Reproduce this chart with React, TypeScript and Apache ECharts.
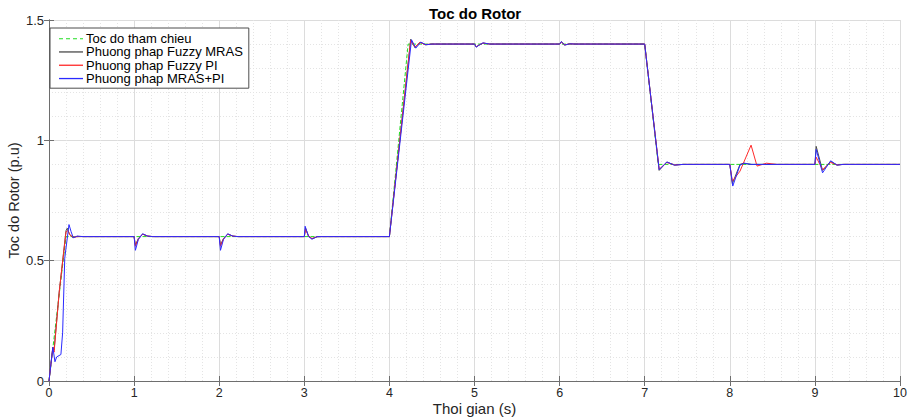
import React, { useEffect, useRef } from "react";
import * as echarts from "echarts";

const chartTitle = "Toc do Rotor";
const xAxisName = "Thoi gian (s)";
const yAxisName = "Toc do Rotor (p.u)";
const seriesNames = [
  "Toc do tham chieu",
  "Phuong phap Fuzzy MRAS",
  "Phuong phap Fuzzy PI",
  "Phuong phap MRAS+PI",
];

// [time (s), speed (p.u)]
const refData: number[][] = [
  [0, 0], [0.2, 0.6], [4.0, 0.6], [4.22, 1.4], [7.0, 1.4], [7.16, 0.9], [10, 0.9],
];

const fuzzyMrasData: number[][] = [
  [0, 0], [0.045, 0.14], [0.06, 0.13], [0.12, 0.37], [0.2, 0.625], [0.215, 0.635], [0.24, 0.61], [0.28, 0.596], [0.33, 0.601], [0.4, 0.6],
  [1.0, 0.6], [1.015, 0.565], [1.05, 0.592], [1.1, 0.61], [1.16, 0.602], [1.22, 0.6],
  [2.0, 0.6], [2.015, 0.565], [2.05, 0.592], [2.1, 0.61], [2.16, 0.602], [2.22, 0.6],
  [3.0, 0.6], [3.015, 0.635], [3.05, 0.603], [3.09, 0.591], [3.15, 0.599], [3.2, 0.6],
  [4.0, 0.6], [4.25, 1.42], [4.3, 1.385], [4.36, 1.408], [4.42, 1.397], [4.5, 1.4],
  [5.0, 1.4], [5.02, 1.388], [5.06, 1.397], [5.1, 1.404], [5.18, 1.4],
  [6.0, 1.4], [6.02, 1.41], [6.06, 1.396], [6.12, 1.401], [6.18, 1.4],
  [7.0, 1.4], [7.17, 0.875], [7.26, 0.91], [7.35, 0.897], [7.45, 0.9],
  [8.0, 0.9], [8.03, 0.82], [8.12, 0.9], [8.16, 0.905], [8.25, 0.9],
  [9.0, 0.9], [9.015, 0.975], [9.09, 0.875], [9.185, 0.912], [9.26, 0.897], [9.33, 0.9], [10, 0.9],
];

const fuzzyPiData: number[][] = [
  [0, 0], [0.045, 0.14], [0.06, 0.12], [0.12, 0.37], [0.2, 0.62], [0.22, 0.625], [0.25, 0.605], [0.29, 0.598], [0.35, 0.6],
  [1.0, 0.6], [1.015, 0.56], [1.05, 0.59], [1.1, 0.61], [1.16, 0.602], [1.22, 0.6],
  [2.0, 0.6], [2.015, 0.56], [2.05, 0.59], [2.1, 0.61], [2.16, 0.602], [2.22, 0.6],
  [3.0, 0.6], [3.015, 0.63], [3.05, 0.602], [3.09, 0.592], [3.15, 0.6],
  [4.0, 0.6], [4.25, 1.415], [4.3, 1.388], [4.36, 1.407], [4.42, 1.398], [4.5, 1.4],
  [5.0, 1.4], [5.02, 1.389], [5.06, 1.397], [5.1, 1.404], [5.18, 1.4],
  [6.0, 1.4], [6.02, 1.408], [6.06, 1.397], [6.12, 1.401], [6.18, 1.4],
  [7.0, 1.4], [7.17, 0.88], [7.26, 0.908], [7.35, 0.898], [7.45, 0.9],
  [8.0, 0.9], [8.03, 0.83], [8.12, 0.872], [8.25, 0.98], [8.32, 0.893], [8.43, 0.905], [8.55, 0.9],
  [9.0, 0.9], [9.015, 0.93], [9.09, 0.878], [9.185, 0.908], [9.26, 0.898], [9.33, 0.9], [10, 0.9],
];

const mrasPiData: number[][] = [
  [0, 0], [0.045, 0.14], [0.07, 0.08], [0.09, 0.1], [0.14, 0.11], [0.16, 0.2], [0.185, 0.51], [0.235, 0.65], [0.26, 0.62], [0.285, 0.595], [0.33, 0.602], [0.4, 0.6],
  [1.0, 0.6], [1.015, 0.543], [1.05, 0.588], [1.1, 0.612], [1.16, 0.602], [1.22, 0.6],
  [2.0, 0.6], [2.015, 0.543], [2.05, 0.588], [2.1, 0.612], [2.16, 0.602], [2.22, 0.6],
  [3.0, 0.6], [3.01, 0.643], [3.05, 0.6], [3.09, 0.589], [3.15, 0.6],
  [4.0, 0.6], [4.26, 1.418], [4.31, 1.383], [4.37, 1.408], [4.43, 1.397], [4.5, 1.4],
  [5.0, 1.4], [5.02, 1.387], [5.06, 1.397], [5.1, 1.405], [5.18, 1.4],
  [6.0, 1.4], [6.02, 1.41], [6.06, 1.396], [6.12, 1.401], [6.18, 1.4],
  [7.0, 1.4], [7.17, 0.878], [7.26, 0.91], [7.35, 0.897], [7.45, 0.9],
  [8.0, 0.9], [8.035, 0.81], [8.12, 0.897], [8.17, 0.905], [8.25, 0.9],
  [9.0, 0.9], [9.015, 0.962], [9.09, 0.865], [9.185, 0.915], [9.26, 0.897], [9.33, 0.9], [10, 0.9],
];

const seriesData = [refData, fuzzyMrasData, fuzzyPiData, mrasPiData];
const seriesColors = ["#22dd22", "#4a4a4a", "#ff2a2a", "#2a2aff"];
const seriesDash = ["dashed", "solid", "solid", "solid"];
const legendIcons = [
  "path://M0,0h4v1h-4z M7,0h4v1h-4z M14,0h4v1h-4z M21,0h3v1h-3z",
  "rect",
  "rect",
  "rect",
];

const FONT = "'Liberation Sans', Arial, sans-serif";
const TEXT = "#262626";

export default function App() {
  const ref = useRef<HTMLDivElement>(null);
  useEffect(() => {
    if (!ref.current) return;
    const chart = echarts.init(ref.current, undefined, { renderer: "svg" });
    const axisLine = { show: true, lineStyle: { color: "#6e6e6e", width: 1 } };
    const baseX = {
      type: "value" as const,
      min: 0,
      max: 10,
      interval: 1,
      axisLine,
      axisTick: { show: true, inside: true, length: 5, lineStyle: { color: "#6e6e6e" } },
    };
    const baseY = {
      type: "value" as const,
      min: 0,
      max: 1.5,
      interval: 0.5,
      axisLine,
      axisTick: { show: true, inside: true, length: 5, lineStyle: { color: "#6e6e6e" } },
    };
    chart.setOption({
      animation: false,
      backgroundColor: "#ffffff",
      title: {
        text: chartTitle,
        left: 424,
        top: 1,
        textStyle: { fontFamily: FONT, fontSize: 15, fontWeight: "bold", color: "#000" },
      },
      legend: {
        orient: "vertical",
        left: 50,
        top: 28,
        padding: [4, 6, 3, 9],
        itemWidth: 24,
        itemHeight: 1.3,
        itemGap: 0,
        backgroundColor: "#ffffff",
        borderColor: "#4d4d4d",
        borderWidth: 1,
        borderRadius: 0,
        data: seriesNames.map((name, i) => ({ name, icon: legendIcons[i] })),
        textStyle: { fontFamily: FONT, fontSize: 13, lineHeight: 13.3, color: "#000", padding: [0, 0, 0, -2] },
      },
      grid: { left: 49, right: 13, top: 20, bottom: 38, containLabel: false, outerBoundsMode: "none" },
      xAxis: [
        {
          ...baseX,
          position: "bottom",
          name: xAxisName,
          nameLocation: "middle",
          nameGap: 20,
          nameMoveOverlap: false,
          nameTextStyle: { fontFamily: FONT, fontSize: 15, color: TEXT },
          axisLabel: { fontFamily: FONT, fontSize: 12.5, lineHeight: 13, color: TEXT, margin: 5 },
          splitLine: { show: true, lineStyle: { color: "#dcdcdc", width: 1 } },
          minorTick: { show: false, splitNumber: 5 },
          minorSplitLine: { show: true, lineStyle: { color: "#e4e4e4", type: [1, 2], width: 1 } },
        },
        {
          ...baseX,
          position: "top",
          axisLabel: { show: false },
          splitLine: { show: false },
        },
      ],
      yAxis: [
        {
          ...baseY,
          position: "left",
          name: yAxisName,
          nameLocation: "middle",
          nameGap: 28,
          nameMoveOverlap: false,
          nameTextStyle: { fontFamily: FONT, fontSize: 14.5, color: TEXT },
          axisLabel: { fontFamily: FONT, fontSize: 13, color: TEXT, margin: 5 },
          splitLine: { show: true, lineStyle: { color: "#dcdcdc", width: 1 } },
          minorTick: { show: false, splitNumber: 5 },
          minorSplitLine: { show: true, lineStyle: { color: "#e4e4e4", type: [1, 2], width: 1 } },
        },
        {
          ...baseY,
          position: "right",
          axisLabel: { show: false },
          splitLine: { show: false },
        },
      ],
      series: seriesNames.map((name, i) => ({
        name,
        type: "line",
        xAxisIndex: 0,
        yAxisIndex: 0,
        data: seriesData[i],
        showSymbol: false,
        symbol: "none",
        lineStyle: { color: seriesColors[i], width: 1, type: seriesDash[i] },
        itemStyle: { color: seriesColors[i] },
        z: 2 + i,
      })),
    });
    return () => chart.dispose();
  }, []);
  return (
    <div
      ref={ref}
      style={{ position: "fixed", left: 0, top: 0, width: 913, height: 419, background: "#fff" }}
    />
  );
}
